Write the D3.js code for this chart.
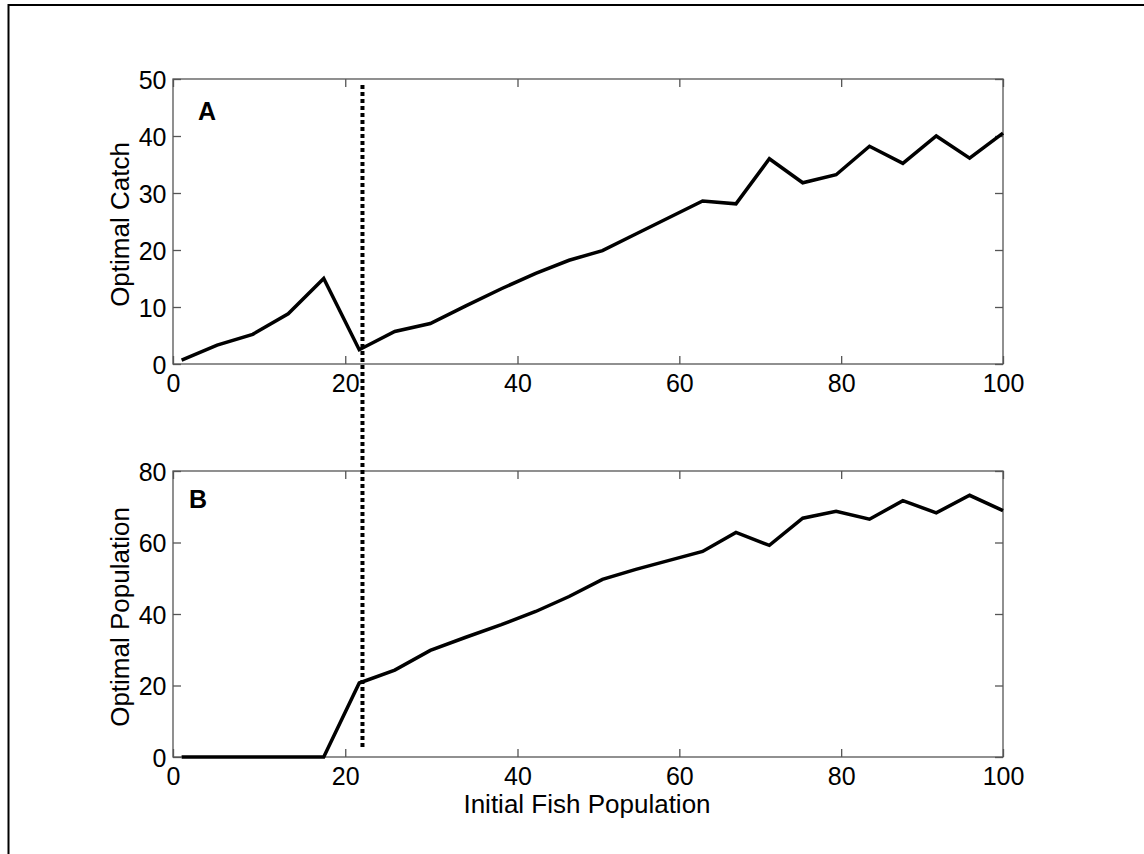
<!DOCTYPE html>
<html>
<head>
<meta charset="utf-8">
<script src="https://cdn.jsdelivr.net/npm/d3@7"></script>
<style>
  html, body { margin: 0; padding: 0; background: #fff; }
  svg { display: block; }
  text { font-family: "Liberation Sans", Arial, sans-serif; fill: #000; }
</style>
</head>
<body>
<svg id="chart" width="1144" height="854"></svg>
<script>
// ---- data ----
const initialPop = [1, 5.125, 9.25, 13.375, 17.5, 21.625, 25.75, 29.875, 34, 38.125, 42.25, 46.375, 50.5,
  54.625, 58.75, 62.875, 67, 71.125, 75.25, 79.375, 83.5, 87.625, 91.75, 95.875, 100];
const optimalCatch = [0.7, 3.3, 5.2, 8.8, 15.0, 2.5, 5.7, 7.1, 10.2, 13.2, 15.9, 18.2, 19.9,
  22.8, 25.7, 28.6, 28.1, 36.0, 31.8, 33.2, 38.2, 35.2, 40.0, 36.1, 40.5];
const optimalPopulation = [0, 0, 0, 0, 0, 20.7, 24.3, 29.8, 33.5, 37.0, 40.7, 44.9, 49.7,
  52.5, 55.0, 57.5, 62.8, 59.2, 66.8, 68.7, 66.5, 71.7, 68.3, 73.2, 68.9];
const xTicks = [0, 20, 40, 60, 80, 100];
const yTicksA = [0, 10, 20, 30, 40, 50];
const yTicksB = [0, 20, 40, 60, 80];
const thresholdX = 22;

const svg = d3.select("#chart");
const FONT = '"Liberation Sans", Arial, sans-serif';

// outer frame (cropped figure border)
svg.append("line").attr("x1", 8).attr("x2", 1144).attr("y1", 5).attr("y2", 5)
  .attr("stroke", "#000").attr("stroke-width", 2);
svg.append("line").attr("x1", 8.5).attr("x2", 8.5).attr("y1", 4).attr("y2", 854)
  .attr("stroke", "#000").attr("stroke-width", 2);

const left = 173, right = 1003;
// the reference picture is slightly stretched on its left side
const x = d3.scaleLinear().domain([0, 40, 100]).range([left, 517.5, right]);

function panel(top, bottom, yDomain, yTicks, values, ylabel, letter, letterPos) {
  const y = d3.scaleLinear().domain(yDomain).range([bottom, top]);
  const g = svg.append("g");
  const tickLen = 8;
  const axisColor = "#555";

  g.append("rect").attr("x", left).attr("y", top).attr("width", right - left).attr("height", bottom - top)
    .attr("fill", "none").attr("stroke", axisColor).attr("stroke-width", 1.3);

  const axB = d3.axisBottom(x).tickValues(xTicks).tickSize(-tickLen).tickFormat(d3.format("d"));
  const gb = g.append("g").attr("transform", `translate(0,${bottom})`).call(axB);
  const axT = d3.axisTop(x).tickValues(xTicks).tickSize(-tickLen).tickFormat("");
  const gt = g.append("g").attr("transform", `translate(0,${top})`).call(axT);
  const axL = d3.axisLeft(y).tickValues(yTicks).tickSize(-tickLen).tickFormat(d3.format("d"));
  const gl = g.append("g").attr("transform", `translate(${left},0)`).call(axL);
  const axR = d3.axisRight(y).tickValues(yTicks).tickSize(-tickLen).tickFormat("");
  const gr = g.append("g").attr("transform", `translate(${right},0)`).call(axR);
  [gb, gt, gl, gr].forEach(a => {
    a.select(".domain").remove();
    a.selectAll(".tick line").attr("stroke", axisColor).attr("stroke-width", 1.3);
    a.selectAll(".tick text").style("font-size", "25px").attr("fill", "#000").style("font-family", FONT);
  });
  gb.selectAll(".tick text").attr("y", 10).attr("dy", "0.71em");
  gl.selectAll(".tick text").attr("x", -6.5).attr("dy", "0.36em");

  const line = d3.line().x((d, i) => x(initialPop[i])).y(d => y(d));
  g.append("path").datum(values).attr("d", line)
    .attr("fill", "none").attr("stroke", "#000").attr("stroke-width", 3.5).attr("stroke-linejoin", "miter");

  g.append("text").attr("transform", `translate(129,${(top + bottom) / 2 + 3}) rotate(-90)`)
    .attr("text-anchor", "middle")
    .style("font-size", "26px").text(ylabel);

  g.append("text").attr("x", letterPos[0]).attr("y", letterPos[1])
    .style("font-size", "25px").style("font-weight", "bold").text(letter);
  return y;
}

panel(79, 364, [0, 50], yTicksA, optimalCatch, "Optimal Catch", "A", [198, 120]);
panel(471, 757, [0, 80], yTicksB, optimalPopulation, "Optimal Population", "B", [189, 508]);

svg.append("text").attr("x", 587).attr("y", 813).attr("text-anchor", "middle")
  .style("font-size", "26px").text("Initial Fish Population");

svg.append("line").attr("x1", x(thresholdX)).attr("x2", x(thresholdX))
  .attr("y1", 85).attr("y2", 747)
  .attr("stroke", "#000").attr("stroke-width", 4).attr("stroke-dasharray", "4,3");
</script>
</body>
</html>
